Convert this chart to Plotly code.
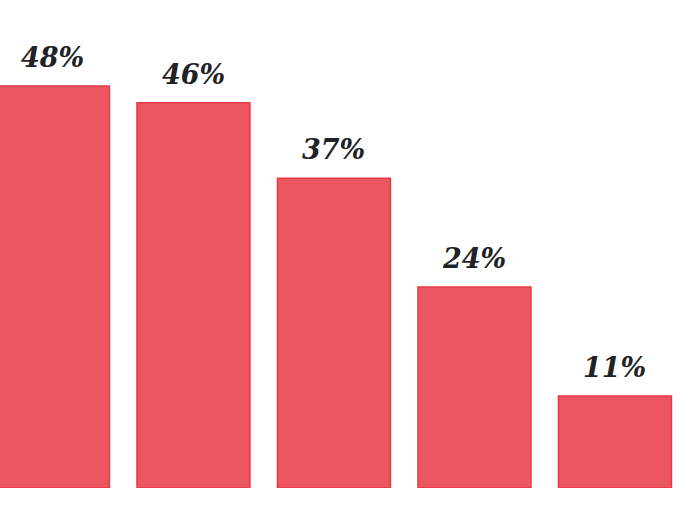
import plotly.graph_objects as go

categories = ["A", "B", "C", "D", "E"]
values = [48, 46, 37, 24, 11]
labels = [f"{v}%" for v in values]

fig = go.Figure()
fig.add_trace(go.Bar(
    x=categories, y=values, width=0.804,
    marker=dict(color="#EB5661", line=dict(color="#E63A46", width=1.5)),
    hoverinfo="skip",
))
for c, v, t in zip(categories, values, labels):
    fig.add_annotation(
        x=c, y=v, text=t, showarrow=False, yanchor="bottom", yshift=11,
        font=dict(family="DejaVu Serif, serif", size=27, color="#1f2326",
                  weight="bold", style="italic"),
    )
fig.update_layout(
    width=680, height=509,
    margin=dict(l=0, r=0, t=0, b=21),
    paper_bgcolor="white", plot_bgcolor="white",
    showlegend=False,
    xaxis=dict(range=[-0.377, 4.463], visible=False),
    yaxis=dict(range=[0, 58.27], visible=False),
)
fig.write_html("out.html", config={"displayModeBar": False},
               post_script="document.body.style.margin='0';")
